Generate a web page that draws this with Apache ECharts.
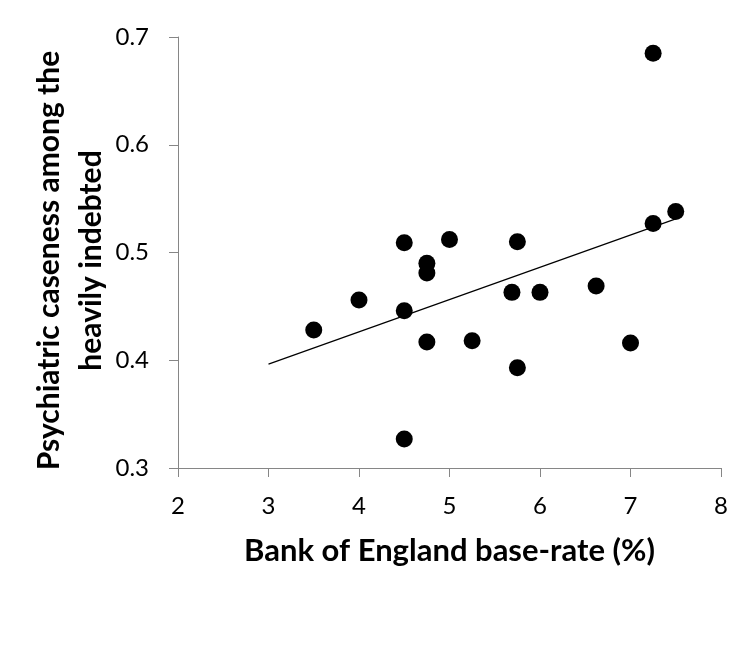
<!DOCTYPE html>
<html>
<head>
<meta charset="utf-8">
<title>Base rate vs psychiatric caseness</title>
<script src="https://cdn.jsdelivr.net/npm/echarts@6/dist/echarts.min.js"></script>
<style>
  html, body { margin: 0; padding: 0; background: #fff; }
  #chart { width: 751px; height: 646px; }
</style>
</head>
<body>
<div id="chart"></div>
<script>
// Bank of England base-rate (%) and caseness among the heavily indebted
var baseRate = [3.5, 4.0, 4.5, 4.5, 4.5, 4.75, 4.75, 4.75, 5.0, 5.25, 5.69, 5.75, 5.75, 6.0, 6.62, 7.0, 7.25, 7.25, 7.5];
var caseness = [0.428, 0.456, 0.509, 0.446, 0.327, 0.490, 0.481, 0.417, 0.512, 0.418, 0.463, 0.510, 0.393, 0.463, 0.469, 0.416, 0.685, 0.527, 0.538];

var xTicks = [2, 3, 4, 5, 6, 7, 8];
var yTicks = [0.3, 0.4, 0.5, 0.6, 0.7];

// excel trendline starts half a point before the first value
var trendStart = 3.0;

var FONT = 'Lato';
var AXIS_GREY = '#868686';

// least squares fit
function linearFit(xs, ys) {
    var n = xs.length, mx = 0, my = 0;
    for (var i = 0; i < n; i++) { mx += xs[i]; my += ys[i]; }
    mx /= n; my /= n;
    var sxy = 0, sxx = 0;
    for (var j = 0; j < n; j++) {
        sxy += (xs[j] - mx) * (ys[j] - my);
        sxx += (xs[j] - mx) * (xs[j] - mx);
    }
    var slope = sxy / sxx;
    return { slope: slope, intercept: my - slope * mx };
}

var fit = linearFit(baseRate, caseness);
var trendEnd = Math.max.apply(null, baseRate);
var trendData = [trendStart, trendEnd].map(function (x) {
    return [x, fit.intercept + fit.slope * x];
});

var points = baseRate.map(function (x, i) { return [x, caseness[i]]; });

var chart = echarts.init(document.getElementById('chart'), null, { renderer: 'canvas' });

var option = {
    animation: false,
    backgroundColor: '#fff',
    grid: { left: 178, right: 30, top: 37, bottom: 178, containLabel: false },
    xAxis: {
        type: 'value',
        min: xTicks[0],
        max: xTicks[xTicks.length - 1],
        interval: xTicks[1] - xTicks[0],
        name: 'Bank of England base-rate (%)',
        nameLocation: 'middle',
        nameGap: 67,
        nameMoveOverlap: false,
        nameTextStyle: { fontFamily: FONT, fontWeight: 'bold', fontSize: 31, color: '#000' },
        axisLine: { show: true, onZero: false, lineStyle: { color: AXIS_GREY, width: 1 } },
        axisTick: { show: true, inside: false, length: 9, lineStyle: { color: AXIS_GREY } },
        axisLabel: { fontFamily: FONT, fontSize: 24, color: '#000', margin: 26 },
        splitLine: { show: false }
    },
    yAxis: {
        type: 'value',
        min: yTicks[0],
        max: yTicks[yTicks.length - 1],
        interval: 0.1,
        name: 'Psychiatric caseness among the\nheavily indebted',
        nameLocation: 'middle',
        nameRotate: 90,
        nameGap: 66,
        nameMoveOverlap: false,
        nameTextStyle: {
            fontFamily: FONT, fontWeight: 'bold', fontSize: 30, color: '#000',
            lineHeight: 42, align: 'center', padding: [0, 16, 0, 0]
        },
        axisLine: { show: true, onZero: false, lineStyle: { color: AXIS_GREY, width: 1 } },
        axisTick: { show: true, inside: false, length: 9, lineStyle: { color: AXIS_GREY } },
        axisLabel: {
            fontFamily: FONT, fontSize: 24, color: '#000', margin: 29,
            formatter: function (v) { return v.toFixed(1); }
        },
        splitLine: { show: false }
    },
    series: [
        {
            name: 'trend',
            type: 'line',
            data: trendData,
            symbol: 'none',
            silent: true,
            lineStyle: { color: '#000', width: 1.2 },
            z: 1
        },
        {
            name: 'caseness',
            type: 'scatter',
            data: points,
            symbol: 'circle',
            symbolSize: 17,
            itemStyle: { color: '#000', opacity: 1 },
            z: 2
        }
    ]
};

chart.setOption(option);
</script>
</body>
</html>
